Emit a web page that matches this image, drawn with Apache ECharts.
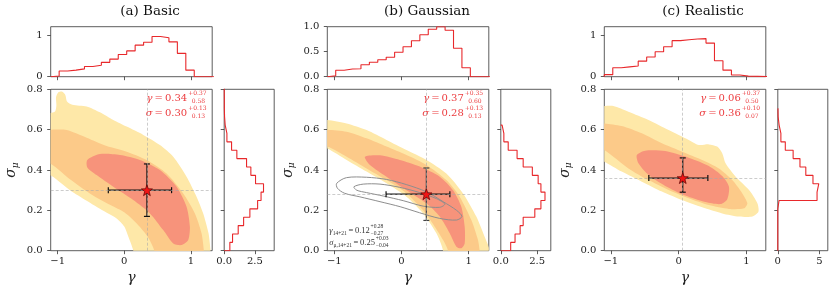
<!DOCTYPE html>
<html><head><meta charset="utf-8">
<script src="https://cdn.jsdelivr.net/npm/echarts@6/dist/echarts.min.js"></script>
<style>html,body{margin:0;padding:0;background:#fff}#c{width:830px;height:294px}</style>
</head><body><div id="c"></div>
<script>
// ---------------- data ----------------
const titles = ['(a) Basic', '(b) Gaussian', '(c) Realistic'];
const gammaMin = [-1.105, -1.105, -1.096];
const gammaMax = [1.32, 1.30, 1.284];
const sigmaTicks = [0, 0.2, 0.4, 0.6, 0.8];
const gammaTicks = [-1, 0, 1];

// top histograms (gamma), bin start / width / heights
const topStart = [-1.105, -1.105, -1.096];
const topWidth = [0.1268, 0.1253, 0.1249];
const topHistA = [0.016, 0.14, 0.16, 0.19, 0.25, 0.28, 0.35, 0.43, 0.54, 0.63, 0.77, 0.84, 0.98, 0.95, 0.85, 0.57, 0.16];
const topHistB = [0.02, 0.13, 0.155, 0.16, 0.24, 0.29, 0.34, 0.39, 0.49, 0.60, 0.72, 0.84, 0.95, 1.0, 0.93, 0.57, 0.18];
const topHistC = [0.05, 0.22, 0.24, 0.26, 0.38, 0.48, 0.61, 0.73, 0.88, 0.90, 0.92, 0.93, 0.82, 0.39, 0.16, 0.04, 0.015];
const topYMax = [1.22, 1.0, 1.22];
const topYTicks = [[0, 1], [0, 0.5, 1.0], [0, 1]];

// right histograms (sigma_mu), bins from 0 upward
const rightWidth = 0.0415;
const rightHistA = [0.46, 0.68, 1.14, 1.58, 2.09, 2.72, 3.0, 3.2, 2.55, 2.17, 1.82, 1.03, 0.6, 0.22, 0.08, 0.03, 0.01, 0.01, 0.005, 0.005];
const rightHistB = [0.68, 0.98, 1.33, 1.54, 2.34, 2.76, 3.04, 2.76, 2.57, 2.17, 1.54, 1.12, 0.51, 0.21, 0.09];
const rightHistC = [0, 0, 0, 0, 0, 0.15, 4.71, 4.92, 4.22, 3.36, 2.66, 1.84, 0.9, 0.37, 0.16, 0.04, 0.02];
const rightXMax = [4.07, 3.44, 6.0];
const rightXTicks = [[0, 2.5], [0, 2.5], [0, 5]];

// medians and credible intervals
const gammaMed = [0.34, 0.37, 0.06];
const gammaPlus = [0.37, 0.35, 0.37];
const gammaMinus = [0.58, 0.60, 0.50];
const sigmaMed = [0.30, 0.28, 0.36];
const sigmaPlus = [0.13, 0.13, 0.10];
const sigmaMinus = [0.13, 0.13, 0.07];

// 14+21 comparison (panel b)
const gamma1421 = [0.12, 0.28, 0.27];
const sigma1421 = [0.25, 0.03, 0.04];

// contour outlines (gamma, sigma_mu)
const contourA1 = [[-1.3,0.68],[-1.11,0.683],[-1.04,0.69],[-1.02,0.72],[-1.025,0.76],[-0.99,0.785],[-0.93,0.788],[-0.885,0.772],[-0.86,0.74],[-0.78,0.724],[-0.565,0.715],[-0.365,0.686],[-0.165,0.648],[0.035,0.615],[0.285,0.574],[0.535,0.524],[0.735,0.466],[0.935,0.367],[1.085,0.268],[1.185,0.185],[1.265,0.086],[1.295,0.0],[1.3,-0.05],[0.14,-0.05],[0.135,0.0],[0.06,0.07],[0.0,0.12],[-0.115,0.16],[-0.315,0.198],[-0.565,0.248],[-0.815,0.3],[-1.09,0.37],[-1.3,0.40]];
const contourA2 = [[-1.3,0.6],[-1.1,0.6],[-0.865,0.598],[-0.565,0.56],[-0.265,0.519],[0.035,0.491],[0.335,0.45],[0.635,0.383],[0.885,0.284],[1.06,0.185],[1.16,0.086],[1.195,0.0],[1.2,-0.05],[0.44,-0.05],[0.45,0.0],[0.35,0.07],[0.2,0.13],[0.0,0.19],[-0.2,0.225],[-0.5,0.28],[-0.8,0.35],[-1.1,0.43],[-1.3,0.45]];
const contourA3 = [[-0.555,0.45],[-0.365,0.479],[-0.065,0.474],[0.235,0.45],[0.535,0.4],[0.785,0.317],[0.935,0.218],[0.985,0.119],[0.96,0.053],[0.86,0.028],[0.735,0.036],[0.585,0.102],[0.385,0.185],[0.135,0.251],[-0.165,0.317],[-0.415,0.375],[-0.555,0.413]];

const contourB1 = [[-1.3,0.65],[-1.105,0.648],[-0.817,0.631],[-0.52,0.598],[-0.223,0.549],[0.074,0.499],[0.371,0.45],[0.668,0.383],[0.916,0.284],[1.114,0.169],[1.238,0.069],[1.297,0.02],[1.35,-0.05],[0.6,-0.05],[0.619,0],[0.52,0.086],[0.322,0.185],[0.074,0.268],[-0.223,0.334],[-0.52,0.392],[-0.817,0.45],[-1.104,0.507],[-1.3,0.53]];
const contourB2 = [[-1.3,0.6],[-1.104,0.6],[-0.817,0.59],[-0.52,0.557],[-0.223,0.516],[0.074,0.474],[0.371,0.425],[0.668,0.35],[0.866,0.268],[1.04,0.152],[1.139,0.053],[1.163,0],[1.17,-0.05],[0.68,-0.05],[0.693,0],[0.619,0.053],[0.495,0.119],[0.322,0.2],[0.074,0.284],[-0.223,0.35],[-0.52,0.408],[-0.817,0.466],[-1.104,0.516],[-1.3,0.525]];
const contourB3 = [[-0.545,0.466],[-0.322,0.473],[-0.025,0.45],[0.272,0.417],[0.569,0.367],[0.767,0.3],[0.891,0.218],[0.941,0.119],[0.941,0.036],[0.891,0.012],[0.817,0.02],[0.718,0.086],[0.569,0.169],[0.371,0.235],[0.074,0.3],[-0.223,0.367],[-0.47,0.425]];
const grayOuterB = [[-0.965,0.334],[-0.82,0.362],[-0.52,0.364],[-0.22,0.353],[0.07,0.328],[0.37,0.292],[0.62,0.243],[0.82,0.2],[0.9,0.17],[0.82,0.152],[0.57,0.16],[0.27,0.188],[-0.02,0.218],[-0.32,0.243],[-0.62,0.267],[-0.85,0.285],[-0.955,0.31]];
const grayInnerB = [[-0.708,0.317],[-0.57,0.33],[-0.32,0.33],[-0.025,0.314],[0.272,0.288],[0.52,0.258],[0.644,0.231],[0.569,0.215],[0.322,0.221],[0.025,0.248],[-0.272,0.271],[-0.52,0.288],[-0.668,0.3]];

const contourC1 = [[-1.3,0.717],[-1.096,0.717],[-0.963,0.717],[-0.741,0.689],[-0.444,0.648],[-0.148,0.598],[0.148,0.549],[0.296,0.524],[0.444,0.527],[0.568,0.516],[0.642,0.483],[0.691,0.433],[0.84,0.367],[1.037,0.301],[1.16,0.235],[1.175,0.193],[1.086,0.169],[0.889,0.169],[0.642,0.185],[0.346,0.215],[0.049,0.251],[-0.247,0.293],[-0.543,0.342],[-0.84,0.392],[-1.096,0.441],[-1.3,0.47]];
const contourC2 = [[-1.3,0.635],[-1.096,0.631],[-0.84,0.618],[-0.543,0.582],[-0.247,0.532],[0.049,0.491],[0.346,0.45],[0.593,0.408],[0.79,0.35],[0.938,0.284],[1.012,0.235],[0.963,0.21],[0.741,0.207],[0.444,0.226],[0.148,0.26],[-0.148,0.301],[-0.444,0.35],[-0.741,0.408],[-1.096,0.499],[-1.3,0.53]];
const contourC3 = [[-0.617,0.474],[-0.494,0.496],[-0.198,0.494],[0.148,0.461],[0.444,0.42],[0.642,0.37],[0.741,0.317],[0.716,0.255],[0.617,0.231],[0.395,0.241],[0.099,0.273],[-0.198,0.321],[-0.444,0.375],[-0.593,0.433]];

// ---------------- layout / style ----------------
const F = "'DejaVu Serif', serif";
const FN = "'Liberation Serif', serif";
const RED = '#e8282b';
const TXTRED = '#ec3b3e';
const FILLS = ['#fee8a8', '#fcca89', '#f7937b'];
const mainLeft = [50.7, 327.3, 604.3];
const mainW = 161.5, mainTop = 89.3, mainH = 161.4;
const topTop = 26.7, topH = 50;
const rightGap = 12, rightW = 50;
const titleX = [150, 427, 703];

const topHists = [topHistA, topHistB, topHistC];
const rightHists = [rightHistA, rightHistB, rightHistC];
const contours = [[contourA1, contourA2, contourA3], [contourB1, contourB2, contourB3], [contourC1, contourC2, contourC3]];

const mctx = document.createElement('canvas').getContext('2d');
function tw(txt, font) { mctx.font = font; return mctx.measureText(txt).width; }

function topPts(i) {
  const s = topStart[i], w = topWidth[i], v = topHists[i];
  const pts = [[s, 0]];
  v.forEach((h, k) => { pts.push([s + k * w, h]); pts.push([s + (k + 1) * w, h]); });
  const e = s + v.length * w;
  pts.push([e, 0]); pts.push([gammaMax[i] + 0.1, 0]);
  return pts;
}
function rightPts(i) {
  const w = rightWidth, v = rightHists[i];
  const pts = [[0, 0]];
  v.forEach((h, k) => { pts.push([h, k * w]); pts.push([h, (k + 1) * w]); });
  pts.push([0, v.length * w]);
  return pts;
}
const minus = s => s.replace('-', '\u2212');

function axis(gridIndex, min, max, ticks, showLabel, fmt, extra) {
  return Object.assign({
    type: 'value', gridIndex, min, max,
    splitLine: { show: false },
    axisLine: { show: false, onZero: false },
    axisTick: { show: true, inside: false, length: 3.5, lineStyle: { color: '#333', width: 0.8 }, customValues: ticks },
    axisLabel: { show: showLabel, customValues: ticks, formatter: fmt, fontFamily: F, fontSize: 10, color: '#222', margin: 6 }
  }, extra || {});
}

const grids = [], xAxes = [], yAxes = [], series = [], graphics = [];
for (let i = 0; i < 3; i++) {
  const L = mainLeft[i];
  const gbase = { show: true, borderColor: '#333', borderWidth: 0.8, backgroundColor: 'transparent', containLabel: false };
  grids.push(Object.assign({ left: L, top: topTop, width: mainW, height: topH }, gbase));
  grids.push(Object.assign({ left: L, top: mainTop, width: mainW, height: mainH }, gbase));
  grids.push(Object.assign({ left: L + mainW + rightGap, top: mainTop, width: rightW, height: mainH }, gbase));
  const g0 = 3 * i, g1 = 3 * i + 1, g2 = 3 * i + 2;
  xAxes.push(axis(g0, gammaMin[i], gammaMax[i], gammaTicks, false, null));
  yAxes.push(axis(g0, 0, topYMax[i], topYTicks[i], true, v => (i === 1 ? v.toFixed(1) : String(Math.round(v))), {}));
  yAxes[yAxes.length - 1].axisLabel.margin = 8;
  xAxes.push(axis(g1, gammaMin[i], gammaMax[i], gammaTicks, true, v => minus(String(Math.round(v))), {
    name: 'γ', nameLocation: 'middle', nameGap: 20,
    nameTextStyle: { fontFamily: F, fontStyle: 'italic', fontSize: 14, color: '#222' }
  }));
  yAxes.push(axis(g1, 0, 0.8, sigmaTicks, true, v => v.toFixed(1), {}));
  yAxes[yAxes.length - 1].axisLabel.margin = 8;
  xAxes.push(axis(g2, 0, rightXMax[i], rightXTicks[i], true, v => (i === 2 ? String(Math.round(v)) : v.toFixed(1)), {}));
  yAxes.push(axis(g2, 0, 0.8, sigmaTicks, false, null, {}));

  series.push({ type: 'line', xAxisIndex: g0, yAxisIndex: g0, data: topPts(i), showSymbol: false, symbol: 'none',
    lineStyle: { color: RED, width: 1.1 }, animation: false, silent: true, z: 3 });
  series.push({ type: 'line', xAxisIndex: g2, yAxisIndex: g2, data: rightPts(i), showSymbol: false, symbol: 'none',
    lineStyle: { color: RED, width: 1.1 }, animation: false, silent: true, z: 3 });

  contours[i].forEach((poly, k) => {
    series.push({
      type: 'custom', xAxisIndex: g1, yAxisIndex: g1, data: [[poly[0][0], poly[0][1]]], silent: true, animation: false, z: 1 + k * 0.01,
      renderItem: (params, api) => {
        const cs = params.coordSys;
        return { type: 'polygon', shape: { points: poly.map(p => api.coord(p)), smooth: 0.25 },
          style: { fill: FILLS[k], stroke: null },
          clipPath: { type: 'rect', shape: { x: cs.x, y: cs.y, width: cs.width, height: cs.height } } };
      }
    });
  });
  if (i === 1) {
    [grayOuterB, grayInnerB].forEach(poly => {
      series.push({
        type: 'custom', xAxisIndex: g1, yAxisIndex: g1, data: [[poly[0][0], poly[0][1]]], silent: true, animation: false, z: 2,
        renderItem: (params, api) => ({ type: 'polygon', shape: { points: poly.map(p => api.coord(p)), smooth: 0.3 },
          style: { fill: null, stroke: '#8e8e8e', lineWidth: 1 } })
      });
    });
  }
  const vColor = i === 1 ? '#444' : '#111';
  series.push({
    type: 'custom', xAxisIndex: g1, yAxisIndex: g1, silent: true, animation: false, z: 4,
    data: [[gammaMed[i], sigmaMed[i], gammaMed[i] - gammaMinus[i], gammaMed[i] + gammaPlus[i], sigmaMed[i] - sigmaMinus[i], sigmaMed[i] + sigmaPlus[i]]],
    renderItem: (params, api) => {
      const l = api.coord([api.value(2), api.value(1)]);
      const r = api.coord([api.value(3), api.value(1)]);
      const b = api.coord([api.value(0), api.value(4)]);
      const t = api.coord([api.value(0), api.value(5)]);
      const c = 3;
      const ln = (x1, y1, x2, y2, col) => ({ type: 'line', shape: { x1, y1, x2, y2 }, style: { stroke: col, lineWidth: 1.2 } });
      return { type: 'group', children: [
        ln(b[0], b[1], t[0], t[1], vColor),
        ln(b[0] - c, b[1], b[0] + c, b[1], vColor),
        ln(t[0] - c, t[1], t[0] + c, t[1], vColor),
        ln(l[0], l[1], r[0], r[1], '#111'),
        ln(l[0], l[1] - c, l[0], l[1] + c, '#111'),
        ln(r[0], r[1] - c, r[0], r[1] + c, '#111')
      ] };
    }
  });
  series.push({
    type: 'scatter', xAxisIndex: g1, yAxisIndex: g1, data: [[gammaMed[i], sigmaMed[i]]], animation: false, silent: true, z: 5,
    symbol: 'path://M0,-10L2.35,-3.24L9.51,-3.09L3.8,1.24L5.88,8.09L0,4L-5.88,8.09L-3.8,1.24L-9.51,-3.09L-2.35,-3.24Z',
    symbolSize: 11, itemStyle: { color: '#f01515', borderColor: '#5a0000', borderWidth: 0.7, opacity: 1 },
    markLine: { silent: true, symbol: ['none', 'none'], animation: false, label: { show: false },
      lineStyle: { type: [3, 2], color: '#aaaaaa', width: 0.6 }, emphasis: { disabled: true },
      data: [{ xAxis: gammaMed[i] }, { yAxis: sigmaMed[i] }] }
  });

  graphics.push({ type: 'text', x: titleX[i], y: 11, style: { text: titles[i], font: '13.5px ' + F, fill: '#111', align: 'center', verticalAlign: 'middle', textAlign: 'center', textVerticalAlign: 'middle' } });
  graphics.push({ type: 'text', x: L - 39, y: mainTop + mainH / 2, rotation: Math.PI / 2,
    style: { text: '{s|σ}{m|μ}', align: 'center', verticalAlign: 'middle', textAlign: 'center', textVerticalAlign: 'middle',
      rich: { s: { fontFamily: F, fontStyle: 'italic', fontSize: 14, fill: '#222', color: '#222', lineHeight: 16, verticalAlign: 'middle' },
              m: { fontFamily: F, fontStyle: 'italic', fontSize: 9, fill: '#222', color: '#222', lineHeight: 16, verticalAlign: 'bottom' } } } });
  const R = L + mainW;
  const mainRich = { g: { fontFamily: F, fontStyle: 'italic', fontSize: 10, fill: TXTRED, color: TXTRED }, n: { fontFamily: F, fontSize: 10, fill: TXTRED, color: TXTRED } };
  const lines = [
    { sym: 'γ', med: gammaMed[i], p: gammaPlus[i], m: gammaMinus[i], y: 98.5 },
    { sym: 'σ', med: sigmaMed[i], p: sigmaPlus[i], m: sigmaMinus[i], y: 113 }
  ];
  lines.forEach(o => {
    graphics.push({ type: 'text', x: R - 25, y: o.y, style: { text: '{g|' + o.sym + '}{n|\u2009=\u2009' + o.med.toFixed(2) + '}', rich: mainRich,
      align: 'right', verticalAlign: 'middle', textAlign: 'right', textVerticalAlign: 'middle' } });
    graphics.push({ type: 'text', x: R - 24, y: o.y - 5, style: { text: '+' + o.p.toFixed(2), font: '6px ' + F, fill: TXTRED,
      align: 'left', verticalAlign: 'middle', textAlign: 'left', textVerticalAlign: 'middle' } });
    graphics.push({ type: 'text', x: R - 20.5, y: o.y + 3, style: { text: o.m.toFixed(2), font: '6px ' + F, fill: TXTRED,
      align: 'left', verticalAlign: 'middle', textAlign: 'left', textVerticalAlign: 'middle' } });
  });
}

// gray 14+21 annotation in panel (b)
const GM = 8.5, GS = 5.5;
const grayRich = { g: { fontFamily: FN, fontStyle: 'italic', fontSize: GM, fill: '#333', color: '#333', lineHeight: 12, verticalAlign: 'middle' },
  s: { fontFamily: FN, fontSize: GS, fill: '#333', color: '#333', lineHeight: 12, verticalAlign: 'bottom' },
  n: { fontFamily: FN, fontSize: GM, fill: '#333', color: '#333', lineHeight: 12, verticalAlign: 'middle' } };
const grayLines = [
  { sym: 'γ', sub: '14+21', v: gamma1421, y: 230.5 },
  { sym: 'σ', sub: 'μ,14+21', v: sigma1421, y: 242.5 }
];
grayLines.forEach(o => {
  const num = '\u2009=\u2009' + o.v[0].toFixed(2);
  const x0 = mainLeft[1] + 2;
  const w = tw(o.sym, 'italic ' + GM + 'px ' + FN) + tw(o.sub, GS + 'px ' + FN) + tw(num, GM + 'px ' + FN);
  graphics.push({ type: 'text', x: x0, y: o.y, style: { text: '{g|' + o.sym + '}{s|' + o.sub + '}{n|' + num + '}', rich: grayRich, align: 'left', verticalAlign: 'middle', textAlign: 'left', textVerticalAlign: 'middle' } });
  graphics.push({ type: 'text', x: x0 + w + 0.8, y: o.y - 3.8, style: { text: '+' + o.v[1].toFixed(2), font: GS + 'px ' + FN, fill: '#333', align: 'left', verticalAlign: 'middle', textAlign: 'left', textVerticalAlign: 'middle' } });
  graphics.push({ type: 'text', x: x0 + w + 0.8, y: o.y + 3.4, style: { text: '\u2212' + o.v[2].toFixed(2), font: GS + 'px ' + FN, fill: '#333', align: 'left', verticalAlign: 'middle', textAlign: 'left', textVerticalAlign: 'middle' } });
});

const chart = echarts.init(document.getElementById('c'), null, { renderer: 'canvas' });
chart.setOption({
  animation: false,
  backgroundColor: '#fff',
  grid: grids, xAxis: xAxes, yAxis: yAxes, series: series,
  graphic: { elements: graphics }
});
</script>
</body></html>
